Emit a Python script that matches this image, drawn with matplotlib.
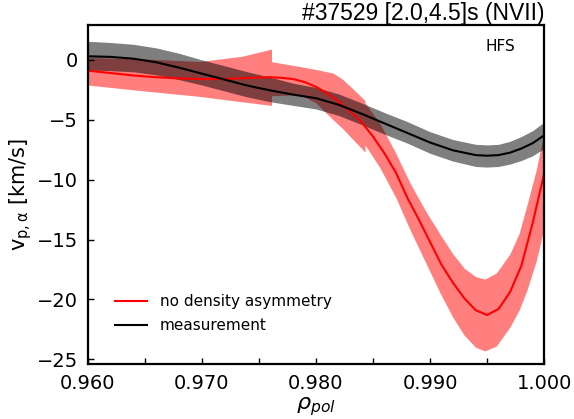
import matplotlib
matplotlib.use("Agg")
import matplotlib.pyplot as plt
from matplotlib.ticker import MultipleLocator, FormatStrFormatter

# measurement (black line + grey band)
rho_meas = [0.960, 0.962, 0.964, 0.966, 0.968, 0.970, 0.972, 0.974, 0.976, 0.978,
            0.980, 0.982, 0.984, 0.986, 0.988, 0.990, 0.992, 0.994, 0.995, 0.996,
            0.997, 0.998, 0.999, 1.000]
v_meas = [0.3, 0.25, 0.1, -0.2, -0.65, -1.15, -1.65, -2.15, -2.55, -2.9,
          -3.2, -3.75, -4.5, -5.3, -6.1, -6.9, -7.55, -7.95, -8.0, -7.95,
          -7.75, -7.4, -6.95, -6.3]
meas_hi = [1.55, 1.45, 1.3, 1.0, 0.55, 0.0, -0.5, -1.0, -1.45, -1.95,
           -2.3, -2.85, -3.6, -4.4, -5.15, -6.0, -6.65, -7.05, -7.1, -7.05,
           -6.8, -6.4, -5.9, -5.2]
meas_lo = [-0.84, -0.9, -1.0, -1.25, -1.65, -2.1, -2.6, -3.1, -3.5, -3.8,
           -4.1, -4.65, -5.4, -6.2, -6.95, -7.8, -8.45, -8.9, -8.95, -8.9,
           -8.7, -8.4, -8.0, -7.4]

# model without density asymmetry (red line)
rho_mod = [0.960, 0.962, 0.964, 0.966, 0.968, 0.970, 0.972, 0.974, 0.976, 0.977,
           0.978, 0.979, 0.980, 0.981, 0.982, 0.983, 0.984, 0.985, 0.986, 0.987,
           0.988, 0.989, 0.990, 0.991, 0.992, 0.993, 0.994, 0.995, 0.996, 0.997,
           0.998, 0.999, 1.000]
v_mod = [-0.9, -1.1, -1.3, -1.45, -1.55, -1.6, -1.6, -1.5, -1.45, -1.5,
         -1.6, -1.85, -2.25, -2.8, -3.5, -4.3, -5.2, -6.4, -7.8, -9.4,
         -11.5, -13.3, -15.2, -17.1, -18.6, -19.9, -20.9, -21.3, -20.8, -19.4,
         -17.2, -13.6, -9.5]

# red uncertainty band (three pieces, hence repeated rho values)
rho_band = [0.960, 0.965, 0.9698, 0.9735, 0.9761,
            0.9761, 0.9786, 0.9800, 0.9815, 0.9823, 0.9830, 0.9843,
            0.9843, 0.9856, 0.9870, 0.98825, 0.9896, 0.9909, 0.9920, 0.9930,
            0.9940, 0.9948, 0.9958, 0.9970, 0.9978, 0.9985, 0.9993, 1.000]
mod_hi = [0.2, 0.08, -0.14, 0.3, 0.9,
          -0.15, -0.56, -0.8, -1.1, -1.6, -2.2, -3.4,
          -3.6, -5.3, -7.8, -10.3, -12.6, -14.6, -16.2, -17.4,
          -18.1, -18.3, -17.8, -16.2, -14.5, -12.1, -9.2, -6.0]
mod_lo = [-2.1, -2.6, -3.05, -3.5, -3.8,
          -3.0, -2.9, -3.6, -5.0, -5.7, -6.4, -7.7,
          -7.1, -9.0, -11.5, -14.2, -16.9, -19.5, -21.5, -23.0,
          -24.0, -24.3, -23.9, -22.3, -20.9, -19.2, -16.8, -14.0]

fig, ax = plt.subplots(figsize=(5.74, 4.19), dpi=100)
fig.subplots_adjust(left=0.153, right=0.948, top=0.940, bottom=0.131)

ax.fill_between(rho_band, mod_lo, mod_hi, color="red", alpha=0.5, lw=0)
ax.plot(rho_mod, v_mod, color="red", lw=1.5, label="no density asymmetry")
ax.fill_between(rho_meas, meas_lo, meas_hi, color="black", alpha=0.5, lw=0)
ax.plot(rho_meas, v_meas, color="black", lw=1.5, label="measurement")

ax.set_xlim(0.960, 1.000)
ax.set_ylim(-25.4, 2.9)
ax.xaxis.set_major_locator(MultipleLocator(0.01))
ax.xaxis.set_minor_locator(MultipleLocator(0.005))
ax.xaxis.set_major_formatter(FormatStrFormatter("%.3f"))
ax.yaxis.set_major_locator(MultipleLocator(5))

for s in ax.spines.values():
    s.set_linewidth(1.6)
ax.tick_params(which="both", direction="in", length=4, width=1,
               top=False, right=False)
ax.tick_params(which="major", labelsize=14, pad=7)

ax.set_xlabel(r"$\rho_{pol}$", fontsize=16, labelpad=2)
ax.set_ylabel(r"v$_{\rm p,\alpha}$ [km/s]", fontsize=15, labelpad=2)
ax.set_title("#37529 [2.0,4.5]s (NVII)", loc="right", fontsize=16.5,
             family="Liberation Sans", pad=3)
ax.text(0.936, 0.938, "HFS", transform=ax.transAxes, ha="right", va="center",
        fontsize=11)

ax.legend(loc="lower left", bbox_to_anchor=(0.03, 0.05), frameon=False,
          fontsize=11, handlelength=2.1, labelspacing=0.6)

fig.savefig("out.png", dpi=100)
